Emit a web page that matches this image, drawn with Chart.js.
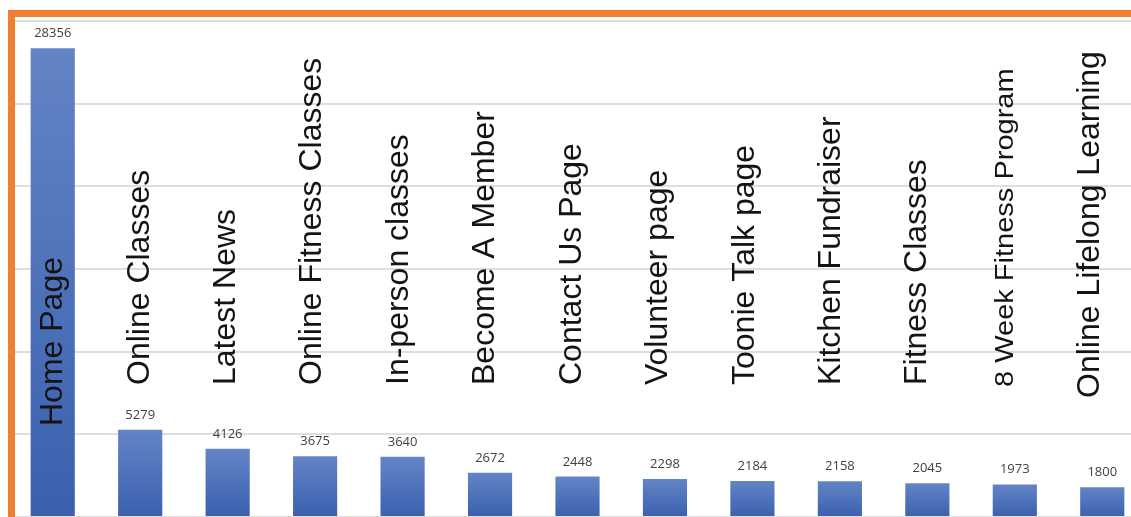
<!DOCTYPE html>
<html>
<head>
<meta charset="utf-8">
<script src="https://cdn.jsdelivr.net/npm/chart.js@4/dist/chart.umd.min.js"></script>
<style>
    body { margin: 0; background: #fff; overflow: hidden; }
    #wrap { position: relative; width: 1150px; height: 517px; }
    #frame {
        position: absolute; top: 10px; left: 8px; right: 0; bottom: 0;
        border-top: 7px solid #f07f31; border-left: 7px solid #f07f31;
        pointer-events: none;
    }
</style>
</head>
<body>
<div id="wrap">
    <canvas id="myChart"></canvas>
    <div id="frame"></div>
</div>
<script>
//页面名称
var Pages = ['Home Page', 'Online Classes', 'Latest News', 'Online Fitness Classes', 'In-person classes',
    'Become A Member', 'Contact Us Page', 'Volunteer page', 'Toonie Talk page', 'Kitchen Fundraiser',
    'Fitness Classes', '8 Week Fitness Program', 'Online Lifelong Learning']
//访问量
var Views = [28356, 5279, 4126, 3675, 3640, 2672, 2448, 2298, 2184, 2158, 2045, 1973, 1800]
//纵轴范围
var yMax = 30000
var yStep = 5000

var ctx;
var myChart;

//名称文字的起点(像素)
var nameStart = [426, 385, 385, 385, 385, 385, 385, 385, 385, 385, 385, 387, 398]

function barFill(c) {
    //每根柱子上浅下深
    let chart = c.chart
    if (!chart.chartArea) return '#4a6fb8'
    let y = chart.scales.y
    let top = y.getPixelForValue(c.raw)
    let bottom = y.getPixelForValue(0)
    let g = chart.ctx.createLinearGradient(0, top, 0, bottom)
    g.addColorStop(0, '#6384c6')
    g.addColorStop(1, '#3a60ae')
    return g
}

//数值和名称标注
var labelPlugin = {
    id: 'barLabels',
    afterDatasetsDraw(chart) {
        let c = chart.ctx
        let meta = chart.getDatasetMeta(0)
        meta.data.forEach((bar, i) => {
            c.save()
            c.fillStyle = '#404040'
            c.font = '13px "Open Sans", sans-serif'
            c.textAlign = 'center'
            c.textBaseline = 'alphabetic'
            c.fillText(String(Views[i]), bar.x, bar.y - 11)
            c.restore()

            c.save()
            c.translate(bar.x + 9.5 - i * 1.05, nameStart[i])
            c.rotate(-Math.PI / 2)
            c.fillStyle = '#141414'
            if (i == 11) {
                //最长的这条压窄一点
                c.scale(1, 0.88)
                c.font = '29px "Liberation Sans", Arial, sans-serif'
            } else {
                c.font = '32px "Liberation Sans", Arial, sans-serif'
            }
            c.textAlign = 'left'
            c.textBaseline = 'alphabetic'
            c.fillText(Pages[i], 0, 0)
            c.restore()
        })
    }
}

ctx = document.getElementById('myChart').getContext('2d')
myChart = new Chart(ctx, {
    type: 'bar',
    data: {
        labels: Pages,
        datasets: [{
            label: 'Views',
            data: Views,
            backgroundColor: barFill,
            borderWidth: 0,
            barPercentage: 0.505,
            categoryPercentage: 1
        }]
    },
    options: {
        responsive: true,
        maintainAspectRatio: false,
        animation: false,
        layout: { padding: { top: 21, left: 9, right: 4, bottom: 0 } },
        plugins: {
            legend: { display: false },
            tooltip: { enabled: false }
        },
        scales: {
            x: { display: false },
            y: {
                min: 0,
                max: yMax,
                ticks: { display: false, stepSize: yStep },
                grid: { color: '#dedede', lineWidth: 2, drawTicks: false },
                border: { display: false }
            }
        }
    },
    plugins: [labelPlugin]
})
</script>
</body>
</html>
